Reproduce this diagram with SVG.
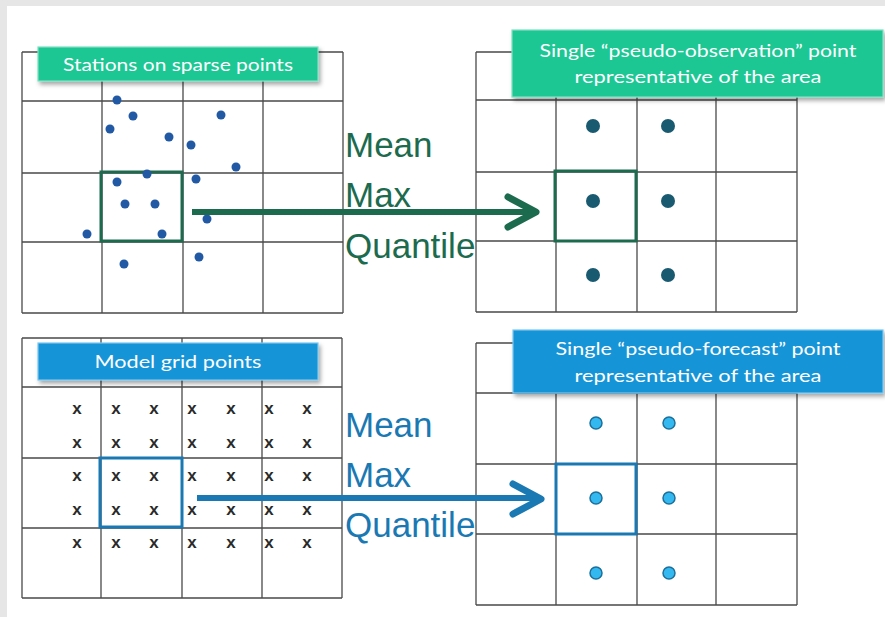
<svg xmlns="http://www.w3.org/2000/svg" width="885" height="617" viewBox="0 0 885 617">
<defs>
<filter id="sh" x="-10%" y="-30%" width="120%" height="170%">
<feDropShadow dx="2" dy="3" stdDeviation="2" flood-color="#000" flood-opacity="0.35"/>
</filter>
<style>
.grid{fill:none;stroke:#4a4a4a;stroke-width:1.3}
.lblG{fill:#1fc794;stroke:#7fe0c2;stroke-width:1.2}
.lblB{fill:#1494d8;stroke:#7cc6ee;stroke-width:1.2}
.lt{font-family:"Lato","Open Sans","DejaVu Sans",sans-serif;font-size:16.5px;fill:#fff;text-anchor:middle}
.stat{font-family:"Liberation Sans",Arial,sans-serif;font-size:35px}
.g{fill:#1c6b4e}
.b{fill:#1a79b3}
.sd{fill:#2159a5}
.od{fill:#195a70}
.fd{fill:#33b9f0;stroke:#1c6f9b;stroke-width:1.5}
.x{font-family:"Liberation Sans",Arial,sans-serif;font-size:17px;font-weight:bold;fill:#2a2a2a;text-anchor:middle}
.sqG{fill:none;stroke:#1c6b4e;stroke-width:3}
.sqB{fill:none;stroke:#1a79b3;stroke-width:3}
</style>
</defs>
<rect x="0" y="0" width="885" height="617" fill="#ffffff"/>
<rect x="0" y="0" width="885" height="6" fill="#e6e6e6"/>
<rect x="0" y="0" width="7" height="617" fill="#e6e6e6"/>

<g id="stations">
<path class="grid" d="M22,52H343M22,101H343M22,173H343M22,242H343M22,313H343M22,52V313M102,52V313M183,52V313M263,52V313M343,52V313"/>
<rect class="sqG" x="101" y="172" width="81" height="69"/>
<g>
<circle class="sd" cx="117" cy="100" r="4.5"/>
<circle class="sd" cx="133" cy="116" r="4.5"/>
<circle class="sd" cx="110" cy="129" r="4.5"/>
<circle class="sd" cx="169" cy="137" r="4.5"/>
<circle class="sd" cx="191" cy="145" r="4.5"/>
<circle class="sd" cx="221" cy="115" r="4.5"/>
<circle class="sd" cx="236" cy="167" r="4.5"/>
<circle class="sd" cx="147" cy="174" r="4.5"/>
<circle class="sd" cx="117" cy="182" r="4.5"/>
<circle class="sd" cx="196" cy="179" r="4.5"/>
<circle class="sd" cx="125" cy="204" r="4.5"/>
<circle class="sd" cx="155" cy="204" r="4.5"/>
<circle class="sd" cx="207" cy="219" r="4.5"/>
<circle class="sd" cx="87" cy="234" r="4.5"/>
<circle class="sd" cx="162" cy="234" r="4.5"/>
<circle class="sd" cx="124" cy="264" r="4.5"/>
<circle class="sd" cx="199" cy="257" r="4.5"/>
</g>
<rect class="lblG" x="38" y="47" width="280" height="34" filter="url(#sh)"/>
<text class="lt" x="178" y="71" textLength="230" lengthAdjust="spacingAndGlyphs">Stations on sparse points</text>
</g>

<g id="pseudo-observation">
<path class="grid" d="M476,52H797M476,100H797M476,172H797M476,241H797M476,312H797M476,52V312M556,52V312M637,52V312M716,52V312M797,52V312"/>
<rect class="sqG" x="555" y="171" width="81" height="70"/>
<circle class="od" cx="593" cy="126" r="7"/>
<circle class="od" cx="668" cy="126" r="7"/>
<circle class="od" cx="593" cy="201" r="7"/>
<circle class="od" cx="668" cy="201" r="7"/>
<circle class="od" cx="593" cy="275" r="7"/>
<circle class="od" cx="668" cy="275" r="7"/>
<rect class="lblG" x="512" y="30" width="371" height="67" filter="url(#sh)"/>
<text class="lt" x="698" y="57" textLength="317" lengthAdjust="spacingAndGlyphs">Single “pseudo-observation” point</text>
<text class="lt" x="698" y="83" textLength="247" lengthAdjust="spacingAndGlyphs">representative of the area</text>
</g>

<g id="model-grid">
<path class="grid" d="M22,338H342M22,387H342M22,458H342M22,528H342M22,598H342M22,338V598M101,338V598M182,338V598M262,338V598M342,338V598"/>
<g>
<text class="x" x="77" y="414">x</text><text class="x" x="116" y="414">x</text><text class="x" x="154" y="414">x</text><text class="x" x="192" y="414">x</text><text class="x" x="231" y="414">x</text><text class="x" x="269" y="414">x</text><text class="x" x="307" y="414">x</text>
<text class="x" x="77" y="448">x</text><text class="x" x="116" y="448">x</text><text class="x" x="154" y="448">x</text><text class="x" x="192" y="448">x</text><text class="x" x="231" y="448">x</text><text class="x" x="269" y="448">x</text><text class="x" x="307" y="448">x</text>
<text class="x" x="77" y="481">x</text><text class="x" x="116" y="481">x</text><text class="x" x="154" y="481">x</text><text class="x" x="192" y="481">x</text><text class="x" x="231" y="481">x</text><text class="x" x="269" y="481">x</text><text class="x" x="307" y="481">x</text>
<text class="x" x="77" y="515">x</text><text class="x" x="116" y="515">x</text><text class="x" x="154" y="515">x</text><text class="x" x="192" y="515">x</text><text class="x" x="231" y="515">x</text><text class="x" x="269" y="515">x</text><text class="x" x="307" y="515">x</text>
<text class="x" x="77" y="548">x</text><text class="x" x="116" y="548">x</text><text class="x" x="154" y="548">x</text><text class="x" x="192" y="548">x</text><text class="x" x="231" y="548">x</text><text class="x" x="269" y="548">x</text><text class="x" x="307" y="548">x</text>
</g>
<rect class="sqB" x="100" y="458" width="82" height="69"/>
<rect class="lblB" x="38" y="343" width="280" height="37" filter="url(#sh)"/>
<text class="lt" x="178" y="368" textLength="167" lengthAdjust="spacingAndGlyphs">Model grid points</text>
</g>

<g id="pseudo-forecast">
<path class="grid" d="M476,343H797M476,393H797M476,464H797M476,534H797M476,605H797M476,343V605M556,343V605M637,343V605M716,343V605M797,343V605"/>
<rect class="sqB" x="556" y="464" width="80" height="70"/>
<circle class="fd" cx="596" cy="423" r="6"/>
<circle class="fd" cx="669" cy="423" r="6"/>
<circle class="fd" cx="596" cy="498" r="6"/>
<circle class="fd" cx="669" cy="498" r="6"/>
<circle class="fd" cx="596" cy="573" r="6"/>
<circle class="fd" cx="669" cy="573" r="6"/>
<rect class="lblB" x="513" y="330" width="370" height="63" filter="url(#sh)"/>
<text class="lt" x="698" y="355" textLength="285" lengthAdjust="spacingAndGlyphs">Single “pseudo-forecast” point</text>
<text class="lt" x="698" y="382" textLength="247" lengthAdjust="spacingAndGlyphs">representative of the area</text>
</g>

<g id="stats-top">
<text class="stat g" x="345" y="157">Mean</text>
<text class="stat g" x="345" y="207">Max</text>
<text class="stat g" x="345" y="258">Quantile</text>
</g>
<g id="stats-bottom">
<text class="stat b" x="345" y="437">Mean</text>
<text class="stat b" x="345" y="487">Max</text>
<text class="stat b" x="345" y="537">Quantile</text>
</g>

<g id="connectors" fill="none" stroke-linecap="round" stroke-linejoin="round">
<path d="M192,212H533" stroke="#1c6b4e" stroke-width="6" stroke-linecap="butt"/>
<path d="M508,197L536,212L508,227" stroke="#1c6b4e" stroke-width="7"/>
<path d="M197,498H538" stroke="#1a79b3" stroke-width="6" stroke-linecap="butt"/>
<path d="M513,484L541,499L513,514" stroke="#1a79b3" stroke-width="7"/>
</g>
</svg>
